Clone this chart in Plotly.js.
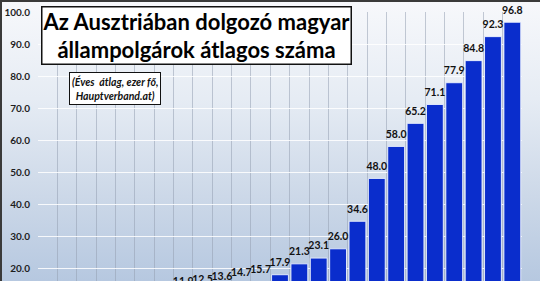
<!DOCTYPE html>
<html>
<head>
<meta charset="utf-8">
<script src="https://cdn.plot.ly/plotly-3.0.1.min.js"></script>
<style>
  html, body { margin: 0; padding: 0; }
  #wrap { position: relative; width: 540px; height: 281px; overflow: hidden;
    background: linear-gradient(to bottom, #f7f8fb 0%, #e6ecf4 35%, #ccd8e8 70%, #b6c8e0 100%); }
  #chart { position: absolute; left: 0; top: 0; width: 540px; height: 340px; }
  #frame { position: absolute; left: 0; top: 0; width: 540px; height: 281px; box-sizing: border-box;
    border-top: 2px solid #3a3a3a; border-left: 2px solid #3a3a3a; pointer-events: none; }
</style>
</head>
<body>
<div id="wrap"><div id="chart"></div><div id="frame"></div></div>
<script>
const years = ['1995','1996','1997','1998','1999','2000','2001','2002','2003','2004','2005','2006',
               '2007','2008','2009','2010','2011','2012','2013','2014','2015','2016','2017','2018','2019'];
const workers = [8.6, 8.8, 9.0, 9.1, 9.3, 9.5, 9.8, 11.9, 12.5, 13.6, 14.7, 15.7,
                 17.9, 21.3, 23.1, 26.0, 34.6, 48.0, 58.0, 65.2, 71.1, 77.9, 84.8, 92.3, 96.8];
const titleText = 'Az Ausztriában dolgozó magyar<br>állampolgárok átlagos száma';
const subtitleText = '(Éves  átlag, ezer fő,<br>Hauptverband.at)';

// The reference is a crop of a taller chart: the plot runs to value 0 below the visible window.
const W = 540, H = 340, L = 38, R = 18, T = 12, B = 8;
const pw = W - L - R, ph = H - T - B;
const px = x => (x - L) / pw;
const py = y => (H - B - y) / ph;

const bars = {
  type: 'bar',
  x: years,
  y: workers,
  marker: { color: '#0a2dcc', line: { color: 'rgba(235,242,255,0.9)', width: 1 } },
  hoverinfo: 'skip'
};

const labels = {
  type: 'scatter',
  mode: 'markers+text',
  x: years,
  y: workers,
  text: workers.map(v => v.toFixed(1)),
  textposition: 'top center',
  marker: { size: 8, color: 'rgba(0,0,0,0)' },
  cliponaxis: false,
  textfont: { family: 'Lato', size: 10.5, color: '#111111', weight: 'bold' },
  hoverinfo: 'skip'
};

const layout = {
  width: W, height: H,
  margin: { l: L, r: R, t: T, b: B, pad: 0 },
  paper_bgcolor: 'rgba(0,0,0,0)',
  plot_bgcolor: 'rgba(0,0,0,0)',
  bargap: 0.13,
  showlegend: false,
  xaxis: {
    type: 'category',
    range: [-0.5, 24.5],
    showticklabels: false,
    tickson: 'boundaries',
    ticks: '',
    showgrid: true,
    gridcolor: 'rgba(150,160,178,0.55)',
    gridwidth: 1,
    zeroline: false,
    showline: false,
    fixedrange: true
  },
  yaxis: {
    range: [0, 100],
    dtick: 10,
    tick0: 0,
    tickformat: '.1f',
    showgrid: true,
    gridcolor: 'rgba(255,255,255,0.85)',
    gridwidth: 1,
    zeroline: false,
    showline: false,
    ticks: '',
    ticklabelstandoff: 7,
    tickfont: { family: 'Lato', size: 10, color: '#1e1e1e', weight: 'bold' },
    fixedrange: true
  },
  annotations: [
    {
      xref: 'paper', yref: 'paper',
      x: px(196), y: py(35.5), xanchor: 'center', yanchor: 'middle',
      text: titleText, showarrow: false, align: 'center',
      font: { family: 'Lato', size: 22, color: '#000000', weight: 'bold' },
      bgcolor: '#ffffff', bordercolor: '#111111', borderwidth: 1.5, borderpad: 0
    },
    {
      xref: 'paper', yref: 'paper',
      x: px(114.5), y: py(88), xanchor: 'center', yanchor: 'middle',
      text: subtitleText, showarrow: false, align: 'center',
      font: { family: 'Lato', size: 10.5, color: '#111111', weight: 'bold', style: 'italic' },
      bgcolor: '#ffffff', bordercolor: '#111111', borderwidth: 1, borderpad: 2
    }
  ]
};

Plotly.newPlot('chart', [bars, labels], layout, { staticPlot: true, displayModeBar: false });
</script>
</body>
</html>
